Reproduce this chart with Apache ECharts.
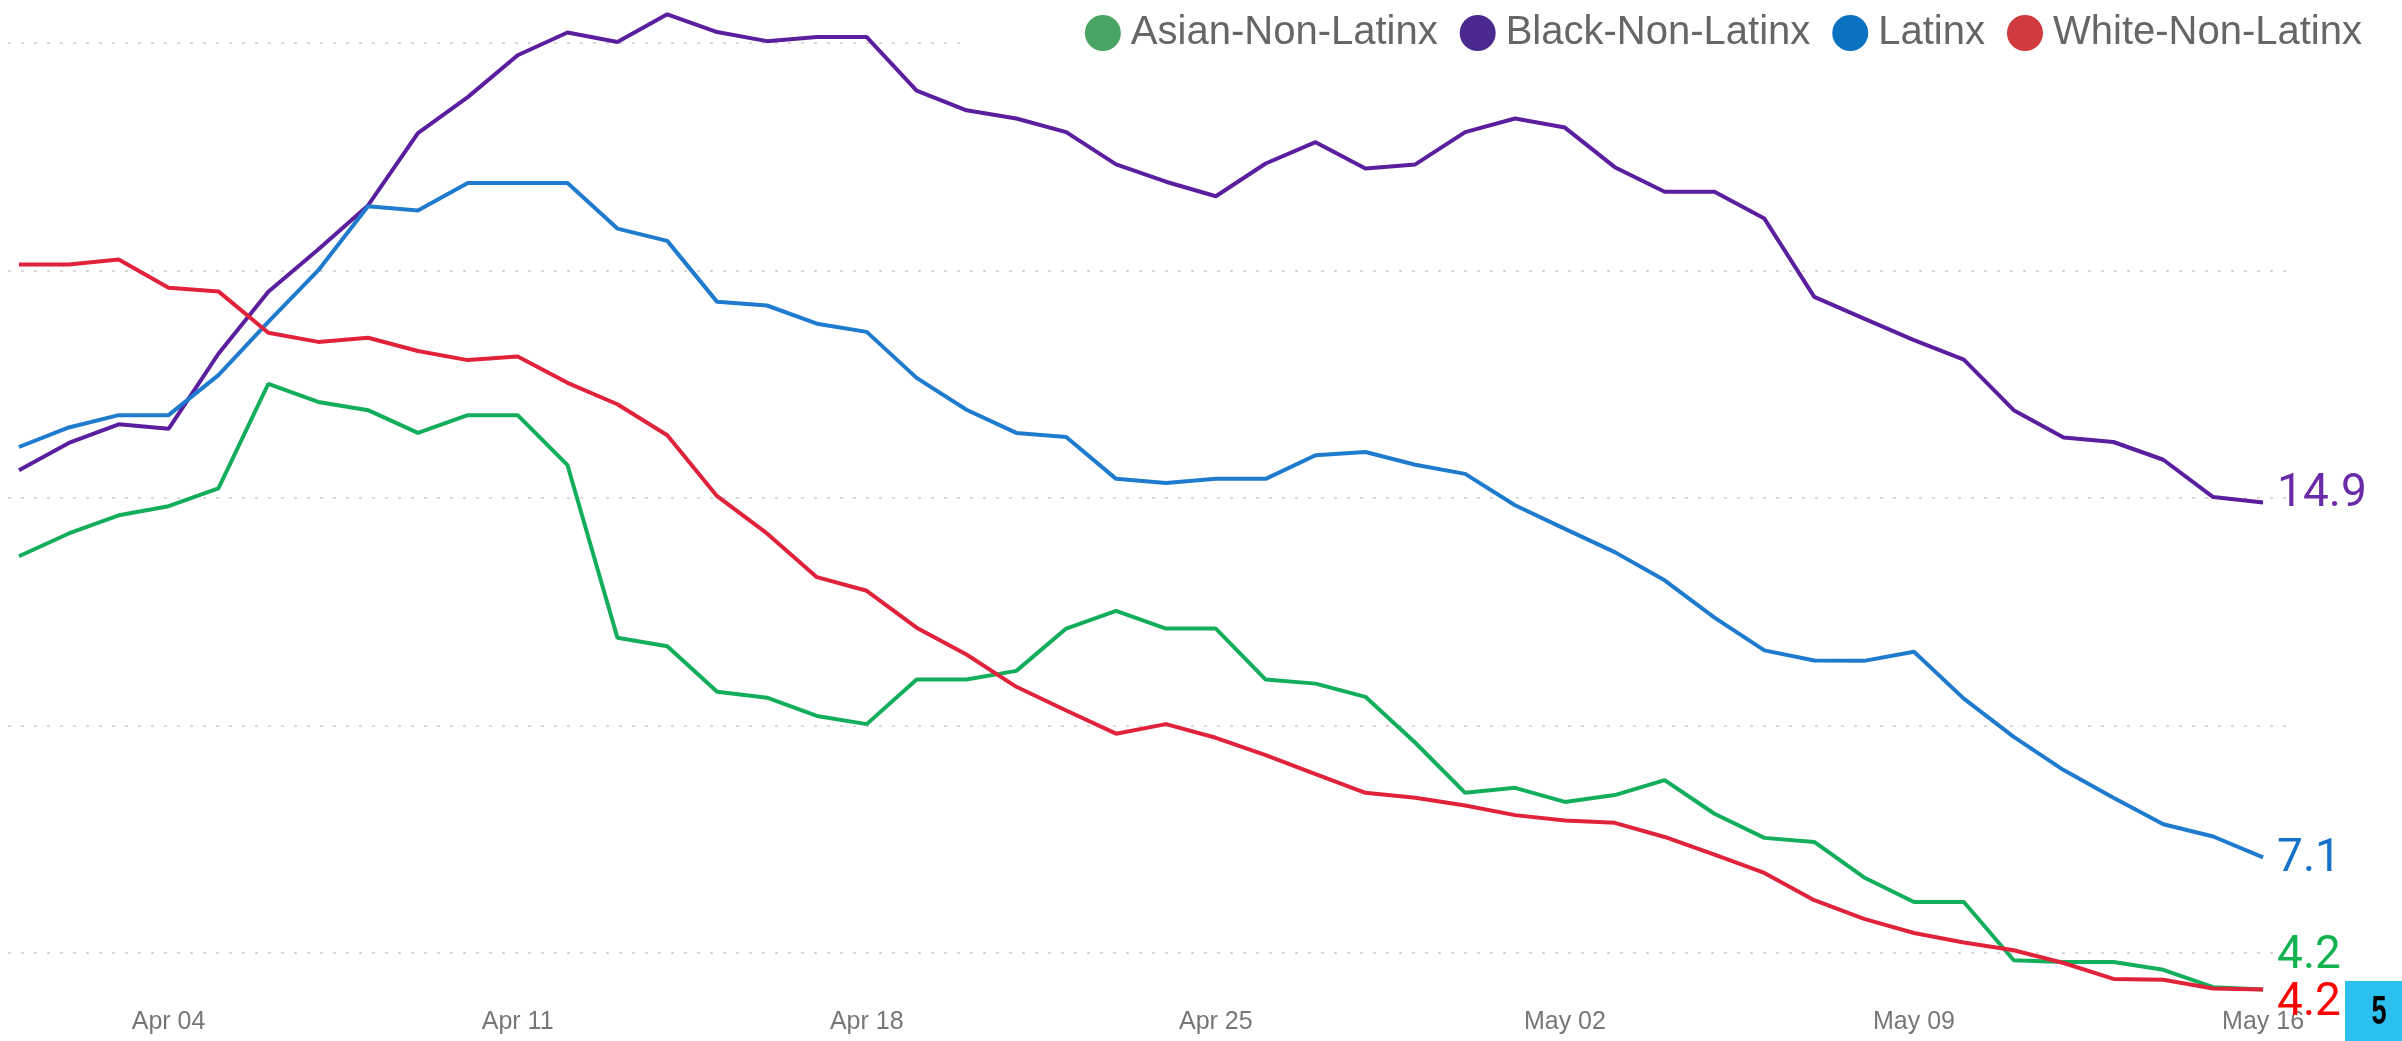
<!DOCTYPE html>
<html><head><meta charset="utf-8">
<script src="https://cdn.jsdelivr.net/npm/echarts@6/dist/echarts.min.js"></script>
<style>html,body{margin:0;padding:0;background:#fff}#c{width:2402px;height:1041px}</style>
</head><body><div id="c"></div>
<script>
const dates = ['Apr 01','Apr 02','Apr 03','Apr 04','Apr 05','Apr 06','Apr 07','Apr 08','Apr 09','Apr 10',
  'Apr 11','Apr 12','Apr 13','Apr 14','Apr 15','Apr 16','Apr 17','Apr 18','Apr 19','Apr 20',
  'Apr 21','Apr 22','Apr 23','Apr 24','Apr 25','Apr 26','Apr 27','Apr 28','Apr 29','Apr 30',
  'May 01','May 02','May 03','May 04','May 05','May 06','May 07','May 08','May 09','May 10',
  'May 11','May 12','May 13','May 14','May 15','May 16'];
const tickDays = [3,10,17,24,31,38,45];
const seriesNames = ['Asian-Non-Latinx','Black-Non-Latinx','Latinx','White-Non-Latinx'];
const asian = [13.72,14.22,14.62,14.82,15.21,17.51,17.11,16.93,16.43,16.82,16.82,15.72,11.93,11.74,10.74,10.61,10.21,10.03,11.01,11.01,11.20,12.13,12.52,12.13,12.13,11.01,10.92,10.63,9.62,8.52,8.63,8.32,8.47,8.80,8.06,7.53,7.44,6.66,6.12,6.12,4.84,4.80,4.80,4.63,4.25,4.2];
const black = [15.61,16.21,16.62,16.52,18.17,19.53,20.46,21.43,23.02,23.81,24.73,25.23,25.02,25.63,25.24,25.04,25.13,25.13,23.95,23.52,23.34,23.04,22.33,21.95,21.63,22.35,22.82,22.24,22.33,23.04,23.34,23.14,22.27,21.73,21.73,21.14,19.42,18.94,18.47,18.04,16.93,16.33,16.23,15.84,15.02,14.9];
const latinx = [16.12,16.55,16.82,16.82,17.70,18.87,20.0,21.41,21.32,21.92,21.92,21.92,20.92,20.65,19.31,19.23,18.83,18.65,17.64,16.94,16.43,16.34,15.42,15.33,15.42,15.42,15.94,16.01,15.73,15.53,14.84,14.32,13.81,13.19,12.37,11.65,11.43,11.42,11.62,10.59,9.75,9.02,8.41,7.83,7.56,7.1];
const white = [20.13,20.13,20.24,19.62,19.54,18.63,18.43,18.52,18.23,18.03,18.11,17.53,17.06,16.38,15.04,14.22,13.26,12.96,12.15,11.56,10.85,10.33,9.82,10.03,9.73,9.35,8.93,8.52,8.41,8.24,8.03,7.91,7.86,7.55,7.16,6.76,6.16,5.75,5.44,5.23,5.06,4.78,4.43,4.41,4.22,4.2];
const badgeText = '5';

const chart = echarts.init(document.getElementById('c'), null, {renderer: 'canvas'});
function pts(arr) { return arr.map((v, i) => [i, v]); }
function mk(name, arr, lineColor, legendColor, labelColor, off) {
  return {
    name: name, type: 'line', data: pts(arr), symbol: 'none', showSymbol: false,
    lineStyle: {color: lineColor, width: 4},
    itemStyle: {color: legendColor},
    endLabel: {show: true, formatter: p => p.value[1].toFixed(1), color: labelColor,
      fontSize: 46, fontFamily: 'Roboto', distance: 14, offset: [0, off]},
    emphasis: {disabled: true}
  };
}
chart.setOption({
  animation: false,
  backgroundColor: '#fff',
  grid: {left: 8, width: 2279, top: 2, height: 996.5, containLabel: false},
  legend: {
    top: 8, right: 0, padding: [5, 40, 5, 125], backgroundColor: '#fff',
    icon: 'circle', itemWidth: 36, itemHeight: 36, itemGap: 22,
    textStyle: {fontSize: 40, color: '#666', fontFamily: 'Liberation Sans, Arial', padding: [0, 0, 0, 5]},
    data: seriesNames
  },
  xAxis: {
    type: 'value', min: -0.22, max: 45.48,
    axisLine: {show: false}, axisTick: {show: false}, splitLine: {show: false},
    axisLabel: {customValues: tickDays, formatter: v => dates[v], color: '#777',
      fontSize: 25, fontFamily: 'Liberation Sans, Arial', margin: 11}
  },
  yAxis: {
    type: 'value', min: 4, max: 25.9,
    axisLine: {show: false}, axisTick: {show: false}, axisLabel: {show: false},
    splitLine: {show: true, showMinLine: false, showMaxLine: false,
      lineStyle: {color: '#d8d8d8', width: 2, type: [3, 10]}}
  },
  series: [
    mk(seriesNames[0], asian, '#13ae5c', '#4aa564', '#12b34f', -33),
    mk(seriesNames[1], black, '#5b1e9e', '#4b2a8f', '#6b2aa8', -8),
    mk(seriesNames[2], latinx, '#1f7bcd', '#0b72c2', '#1470c8', 2),
    mk(seriesNames[3], white, '#e0223a', '#d13a3f', '#ff0000', 14)
  ],
  graphic: [
    {type: 'rect', left: 2345, top: 981, shape: {width: 57, height: 60}, style: {fill: '#2bc0ee'}, z: 100},
    {type: 'text', x: 2379, y: 1013, scaleX: 0.68, style: {text: badgeText, fill: '#000', font: 'bold 40px "Liberation Sans", sans-serif', align: 'center', verticalAlign: 'middle'}, z: 101}
  ]
});
</script></body></html>
